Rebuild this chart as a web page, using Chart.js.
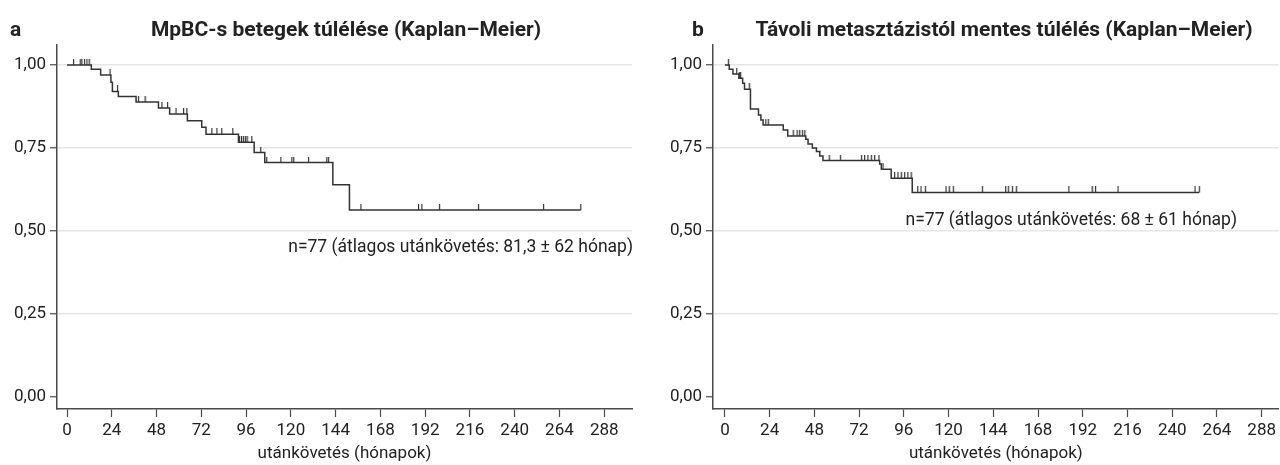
<!DOCTYPE html>
<html>
<head>
<meta charset="utf-8">
<script src="https://cdn.jsdelivr.net/npm/chart.js@4.4.1/dist/chart.umd.min.js"></script>
<style>
  body { margin: 0; background: #fff; font-family: Roboto, "DejaVu Sans", sans-serif; color: #222; }
  #wrap { position: relative; width: 1280px; height: 465px; overflow: hidden; }
  .panel { position: absolute; top: 0; width: 640px; height: 465px; }
  .letter, .title { position: absolute; font-weight: bold; font-size: 21px; line-height: 24px; white-space: nowrap; }
  .title { transform: translateX(-50%); }
  .note { position: absolute; font-size: 17.5px; line-height: 22px; white-space: nowrap; }
</style>
</head>
<body>
<div id="wrap">
  <div class="panel" style="left:0"><canvas id="chartA" width="640" height="465"></canvas></div>
  <div class="panel" style="left:640px"><canvas id="chartB" width="640" height="465"></canvas></div>
  <div class="letter" style="left:10px; top:17px">a</div>
  <div class="title" style="left:346px; top:17px">MpBC-s betegek túlélése (Kaplan–Meier)</div>
  <div class="letter" style="left:692px; top:17px">b</div>
  <div class="title" style="left:1004px; top:17px">Távoli metasztázistól mentes túlélés (Kaplan–Meier)</div>
  <div class="note" id="noteA" style="right:647px; top:235px">n=77 (átlagos utánkövetés: 81,3 ± 62 hónap)</div>
  <div class="note" id="noteB" style="right:43px; top:208px">n=77 (átlagos utánkövetés: 68 ± 61 hónap)</div>
</div>
<script>
// Tick values
const xTicks = [0, 24, 48, 72, 96, 120, 144, 168, 192, 216, 240, 264, 288];
const yTicks = [0, 0.25, 0.5, 0.75, 1];

// Panel a: event times (months) and survival after each event
const eventTimesA = [0, 13, 18, 23.5, 24.3, 27.5, 37, 49, 55, 64.5, 72.2, 74.5, 91.9, 100.3, 106, 142.5, 151.4, 275.4];
const survivalA   = [1, 0.987, 0.970, 0.948, 0.920, 0.905, 0.888, 0.870, 0.852, 0.832, 0.812, 0.791, 0.767, 0.736, 0.706, 0.639, 0.563, 0.563];
const censoredA = [3.4, 7, 7.9, 9.3, 10.6, 11.8, 23, 27, 38.2, 41.8, 50.8, 53.8, 58.4, 62.4, 64.2,
  77.6, 80.3, 82.9, 88.8, 92.4, 93.5, 94.5, 95.6, 96.5, 99, 103.8, 107, 114.6, 120.5, 121.5, 129.4,
  139.2, 140.1, 157.5, 188.4, 190.2, 199.6, 220.5, 255.4, 275.4];

// Panel b
const eventTimesB = [0, 2.3, 4.3, 7.5, 9.5, 10.5, 13.7, 18, 19.3, 20.5, 31.3, 33.7, 43.4, 44.6, 46.9, 49.1, 50.9, 52.6, 83, 83.9, 89.2, 100.5, 254.5];
const survivalB   = [1, 0.987, 0.973, 0.960, 0.945, 0.927, 0.867, 0.849, 0.834, 0.819, 0.804, 0.786, 0.776, 0.762, 0.750, 0.739, 0.726, 0.712, 0.702, 0.686, 0.659, 0.616, 0.616];
const censoredB = [1.8, 6.3, 7.7, 8.4, 13, 21.9, 23.2, 36.6, 38.7, 40.1, 41.5, 42.8, 55.9, 61.9,
  73.2, 74.9, 76.7, 78.5, 80.3, 82.6, 84.8, 91, 92.8, 94.6, 96.4, 98.1, 99.9,
  103.4, 105.2, 107.5, 118.6, 120.3, 122.5, 138.1, 150.6, 152, 154.2, 156.3,
  184.5, 197, 198.8, 210.9, 252.2, 254.5];

const FONT = 'Roboto, "DejaVu Sans", sans-serif';
const AXIS = '#4a4a4a';
const LINE = '#333';

function survivalAt(times, surv, t) {
  let s = surv[0];
  for (let i = 0; i < times.length; i++) if (times[i] <= t) s = surv[i];
  return s;
}

// vertical censor tick sitting on top of the curve
function censorMark(h) {
  const c = document.createElement('canvas');
  c.width = 3; c.height = h * 2;
  const g = c.getContext('2d');
  g.fillStyle = LINE;
  g.fillRect(1, 0, 1.2, h);
  return c;
}

function makePanel(id, times, surv, censored, geo) {
  const curve = times.map((t, i) => ({ x: t, y: surv[i] }));
  const marks = censored.map(t => ({ x: t, y: survivalAt(times, surv, t) }));
  new Chart(document.getElementById(id), {
    type: 'line',
    data: {
      datasets: [
        { data: curve, stepped: 'before', borderColor: LINE, borderWidth: 1.5, pointRadius: 0, fill: false },
        { data: marks, showLine: false, pointStyle: censorMark(6), pointRadius: 3, pointHoverRadius: 3 }
      ]
    },
    options: {
      responsive: false,
      animation: false,
      events: [],
      layout: { autoPadding: false, padding: { top: 45, right: geo.padRight, left: 0, bottom: 0 } },
      plugins: { legend: { display: false }, tooltip: { enabled: false } },
      scales: {
        x: {
          type: 'linear', min: geo.xMin, max: geo.xMax,
          afterBuildTicks: a => { a.ticks = xTicks.map(v => ({ value: v })); },
          afterFit: a => { a.height = 56; },
          grid: { drawOnChartArea: false, tickLength: 8, tickColor: AXIS, tickWidth: 1.2 },
          border: { color: AXIS, width: 1.5 },
          ticks: { font: { family: FONT, size: 17 }, color: '#222', padding: 4, maxRotation: 0, autoSkip: false },
          title: { display: true, text: 'utánkövetés (hónapok)', font: { family: FONT, size: 17 }, color: '#222', padding: { top: 0, bottom: 1 } }
        },
        y: {
          min: -0.036, max: 1.06,
          afterBuildTicks: a => { a.ticks = yTicks.map(v => ({ value: v })); },
          afterFit: a => { a.width = geo.yWidth; },
          grid: { color: c => c.tick && c.tick.value === 0 ? 'rgba(0,0,0,0)' : '#e6e6e6', lineWidth: 1.5, tickLength: 7, tickColor: AXIS, tickWidth: 1.2 },
          border: { color: AXIS, width: 1.5 },
          ticks: { font: { family: FONT, size: 17 }, color: '#222', padding: 4, callback: v => v.toFixed(2).replace('.', ',') }
        }
      }
    }
  });
}

makePanel('chartA', eventTimesA, survivalA, censoredA, { xMin: -5.4, xMax: 302.9, yWidth: 57, padRight: 8 });
makePanel('chartB', eventTimesB, survivalB, censoredB, { xMin: -6.4, xMax: 297.1, yWidth: 73, padRight: 0 });
</script>
</body>
</html>
